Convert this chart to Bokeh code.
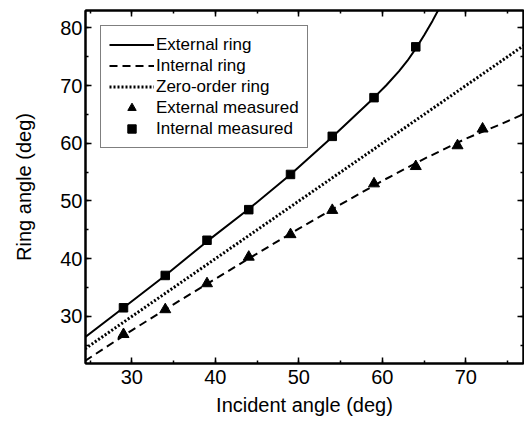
from bokeh.plotting import figure
from bokeh.models import (Range1d, LinearAxis, Legend, LegendItem, SingleIntervalTicker,
                          CustomLabelingPolicy)
from bokeh.embed import file_html
from bokeh.resources import INLINE

# Curves
ext_x = [24.4, 29, 34, 39, 44, 49, 54, 59, 60.5, 62, 63, 64, 65, 66, 67]
ext_y = [26.4, 31.5, 37.1, 43.0, 48.6, 54.6, 61.1, 67.9, 70.1, 72.5, 74.3, 76.4, 78.7, 81.2, 83.9]

int_x = [24.4, 30, 35, 40, 45, 50, 55, 60, 65, 70, 74, 77]
int_y = [22.3, 27.6, 32.1, 36.5, 40.9, 45.2, 49.4, 53.5, 57.3, 60.8, 63.2, 65.1]

zero_x = [24, 78]
zero_y = [24, 78]

# Measured points
tri_x = [29, 34, 39, 44, 49, 54, 59, 64, 69, 72]
tri_y = [26.9, 31.2, 35.7, 40.3, 44.2, 48.4, 53.0, 56.0, 59.6, 62.5]

sq_x = [29, 34, 39, 44, 49, 54, 59, 64]
sq_y = [31.5, 37.1, 43.2, 48.5, 54.6, 61.2, 67.9, 76.7]

FONT = "Liberation Sans"

p = figure(width=524, height=426, output_backend="svg", toolbar_location=None,
           x_range=Range1d(24.45, 76.9), y_range=Range1d(21.85, 83.0),
           min_border_left=85, min_border_right=1, min_border_top=10, min_border_bottom=63,
           x_axis_type=None, y_axis_type=None)
p.grid.visible = False
p.outline_line_color = "black"
p.outline_line_width = 2
p.background_fill_color = "white"
p.border_fill_color = "white"

no_labels = CustomLabelingPolicy(
    code="for (const i of Array.from(indices)) { indices.unset(i) } return indices")


def make_axis(show_labels):
    ax = LinearAxis(ticker=SingleIntervalTicker(interval=10, num_minor_ticks=2))
    ax.axis_line_width = 2
    ax.axis_line_color = "black"
    ax.major_tick_in = 6
    ax.major_tick_out = 0
    ax.minor_tick_in = 3
    ax.minor_tick_out = 0
    ax.major_tick_line_width = 1.5
    ax.minor_tick_line_width = 1.5
    ax.major_tick_line_color = "black"
    ax.minor_tick_line_color = "black"
    if show_labels:
        ax.major_label_text_font = FONT
        ax.major_label_text_font_size = "20px"
        ax.major_label_text_color = "black"
        ax.axis_label_text_font = FONT
        ax.axis_label_text_font_size = "20px"
        ax.axis_label_text_font_style = "normal"
        ax.axis_label_text_color = "black"
    else:
        ax.major_label_text_font_size = "0px"
        ax.major_label_standoff = 0
        ax.major_label_policy = no_labels
    return ax


xb = make_axis(True)
xb.axis_label = "Incident angle (deg)"
xb.major_label_standoff = 6
xb.axis_label_standoff = 7
p.add_layout(xb, "below")

yl = make_axis(True)
yl.axis_label = "Ring angle (deg)"
yl.major_label_standoff = 3
yl.axis_label_standoff = 22
p.add_layout(yl, "left")

p.add_layout(make_axis(False), "above")
p.add_layout(make_axis(False), "right")

r_ext = p.line(ext_x, ext_y, line_color="black", line_width=2)
r_int = p.line(int_x, int_y, line_color="black", line_width=2, line_dash="8 5")
r_zero = p.line(zero_x, zero_y, line_color="black", line_width=3, line_dash="2 2")
r_tri = p.scatter(tri_x, tri_y, marker="triangle", size=11, fill_color="black", line_color="black")
r_sq = p.scatter(sq_x, sq_y, marker="square", size=8.5, fill_color="black", line_color="black")

legend = Legend(items=[
    LegendItem(label="External ring", renderers=[r_ext]),
    LegendItem(label="Internal ring", renderers=[r_int]),
    LegendItem(label="Zero-order ring", renderers=[r_zero]),
    LegendItem(label="External measured", renderers=[r_tri]),
    LegendItem(label="Internal measured", renderers=[r_sq]),
], location="top_left")
legend.label_text_font = FONT
legend.label_text_font_size = "17px"
legend.label_text_color = "black"
legend.glyph_width = 45
legend.glyph_height = 21
legend.label_height = 21
legend.spacing = 0
legend.padding = 8
legend.margin = 15
legend.label_standoff = 2
legend.border_line_color = "black"
legend.border_line_width = 1
legend.background_fill_color = "white"
legend.background_fill_alpha = 1
p.add_layout(legend)

open("out.html", "w").write(file_html(p, INLINE))
